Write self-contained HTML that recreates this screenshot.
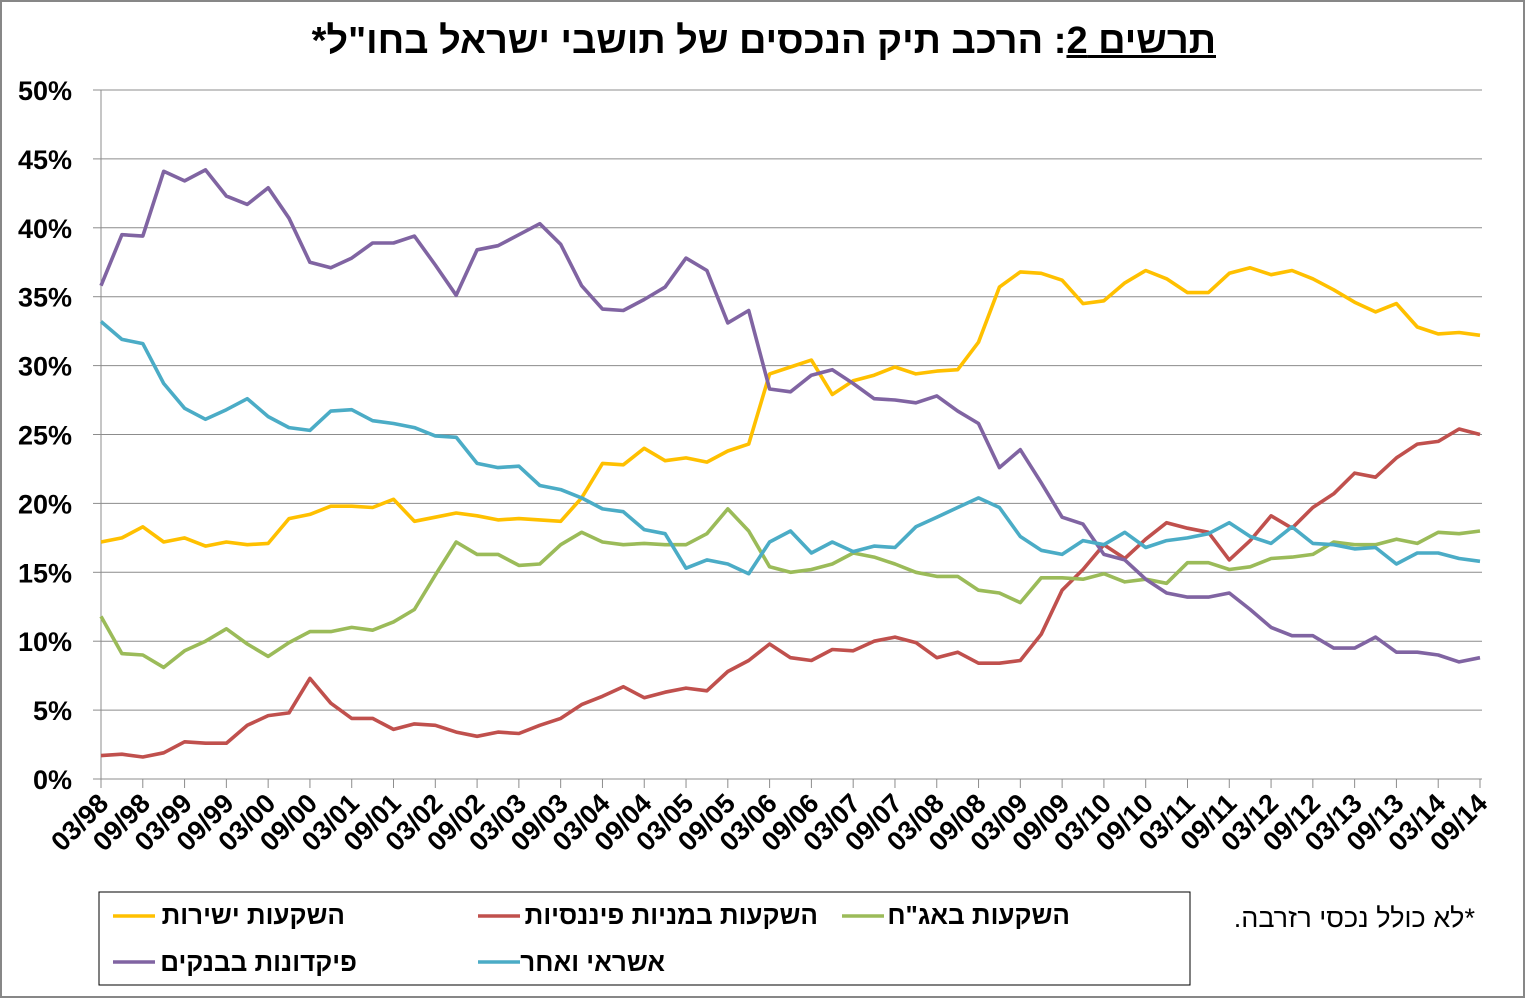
<!DOCTYPE html>
<html><head><meta charset="utf-8">
<style>
html,body{margin:0;padding:0;background:#fff;}
#wrap{position:relative;width:1526px;height:999px;overflow:hidden;font-family:"Liberation Sans","Noto Sans CJK SC",sans-serif;}
.he{position:absolute;direction:rtl;white-space:nowrap;font-family:"Liberation Sans","DejaVu Sans",sans-serif;}
</style></head>
<body>
<div id="wrap">
<svg id="svg" width="1526" height="999" style="position:absolute;left:0;top:0">
<rect x="1" y="1" width="1523" height="996" fill="#fff" stroke="#878787" stroke-width="2"/>
<rect x="99" y="892" width="1091" height="93" fill="none" stroke="#000" stroke-width="1"/>
<g id="grid"></g><g id="axes"></g><g id="series"></g>
</svg>
<div class="he" style="right:310px;top:20px;font-size:38px;font-weight:bold;"><u>תרשים 2</u>: הרכב תיק הנכסים של תושבי ישראל בחו"ל*</div>
<div class="he" style="right:1181px;top:900px;font-size:26px;font-weight:bold;">השקעות ישירות</div>
<div class="he" style="right:708px;top:900px;font-size:26px;font-weight:bold;">השקעות במניות פיננסיות</div>
<div class="he" style="right:456px;top:900px;font-size:26px;font-weight:bold;">השקעות באג"ח</div>
<div class="he" style="right:1169px;top:947px;font-size:26px;font-weight:bold;">פיקדונות בבנקים</div>
<div class="he" style="right:861px;top:947px;font-size:26px;font-weight:bold;">אשראי ואחר</div>
<div class="he" style="right:51px;top:903px;font-size:27px;">*לא כולל נכסי רזרבה.</div>
</div>
<script>
const yTicks=[0,5,10,15,20,25,30,35,40,45,50];
const xLabels=["03/98","09/98","03/99","09/99","03/00","09/00","03/01","09/01","03/02","09/02","03/03","09/03","03/04","09/04","03/05","09/05","03/06","09/06","03/07","09/07","03/08","09/08","03/09","09/09","03/10","09/10","03/11","09/11","03/12","09/12","03/13","09/13","03/14","09/14"];
const direct=[17.2,17.5,18.3,17.2,17.5,16.9,17.2,17.0,17.1,18.9,19.2,19.8,19.8,19.7,20.3,18.7,19.0,19.3,19.1,18.8,18.9,18.8,18.7,20.4,22.9,22.8,24.0,23.1,23.3,23.0,23.8,24.3,29.4,29.9,30.4,27.9,28.9,29.3,29.9,29.4,29.6,29.7,31.7,35.7,36.8,36.7,36.2,34.5,34.7,36.0,36.9,36.3,35.3,35.3,36.7,37.1,36.6,36.9,36.3,35.5,34.6,33.9,34.5,32.8,32.3,32.4,32.2];
const funds=[1.7,1.8,1.6,1.9,2.7,2.6,2.6,3.9,4.6,4.8,7.3,5.5,4.4,4.4,3.6,4.0,3.9,3.4,3.1,3.4,3.3,3.9,4.4,5.4,6.0,6.7,5.9,6.3,6.6,6.4,7.8,8.6,9.8,8.8,8.6,9.4,9.3,10.0,10.3,9.9,8.8,9.2,8.4,8.4,8.6,10.5,13.7,15.2,17.0,16.0,17.4,18.6,18.2,17.9,15.9,17.3,19.1,18.2,19.7,20.7,22.2,21.9,23.3,24.3,24.5,25.4,25.0];
const bonds=[11.8,9.1,9.0,8.1,9.3,10.0,10.9,9.8,8.9,9.9,10.7,10.7,11.0,10.8,11.4,12.3,14.8,17.2,16.3,16.3,15.5,15.6,17.0,17.9,17.2,17.0,17.1,17.0,17.0,17.8,19.6,18.0,15.4,15.0,15.2,15.6,16.4,16.1,15.6,15.0,14.7,14.7,13.7,13.5,12.8,14.6,14.6,14.5,14.9,14.3,14.5,14.2,15.7,15.7,15.2,15.4,16.0,16.1,16.3,17.2,17.0,17.0,17.4,17.1,17.9,17.8,18.0];
const deposits=[35.8,39.5,39.4,44.1,43.4,44.2,42.3,41.7,42.9,40.7,37.5,37.1,37.8,38.9,38.9,39.4,37.3,35.1,38.4,38.7,39.5,40.3,38.8,35.8,34.1,34.0,34.8,35.7,37.8,36.9,33.1,34.0,28.3,28.1,29.3,29.7,28.7,27.6,27.5,27.3,27.8,26.7,25.8,22.6,23.9,21.5,19.0,18.5,16.3,15.9,14.5,13.5,13.2,13.2,13.5,12.3,11.0,10.4,10.4,9.5,9.5,10.3,9.2,9.2,9.0,8.5,8.8];
const credit=[33.2,31.9,31.6,28.7,26.9,26.1,26.8,27.6,26.3,25.5,25.3,26.7,26.8,26.0,25.8,25.5,24.9,24.8,22.9,22.6,22.7,21.3,21.0,20.4,19.6,19.4,18.1,17.8,15.3,15.9,15.6,14.9,17.2,18.0,16.4,17.2,16.5,16.9,16.8,18.3,19.0,19.7,20.4,19.7,17.6,16.6,16.3,17.3,17.0,17.9,16.8,17.3,17.5,17.8,18.6,17.6,17.1,18.3,17.1,17.0,16.7,16.8,15.6,16.4,16.4,16.0,15.8];
const NS="http://www.w3.org/2000/svg";
const X0=101,X1=1480,Y0=779,Y1=90,N=direct.length;
const xs=i=>X0+i*(X1-X0)/(N-1);
const ys=v=>Y0-(v/50)*(Y0-Y1);
function mk(t,a,p){const e=document.createElementNS(NS,t);for(const k in a)e.setAttribute(k,a[k]);p.appendChild(e);return e;}
const grid=document.getElementById('grid'),axes=document.getElementById('axes'),ser=document.getElementById('series');
yTicks.forEach(v=>{
 if(v>0){const g=mk('line',{x1:X0,x2:X1+2,y1:ys(v),y2:ys(v),stroke:'#8c8c8c','stroke-width':1},grid);
 
 }
 const tk=mk('line',{x1:X0-8,x2:X0,y1:ys(v),y2:ys(v),stroke:'#8c8c8c'},axes);
 
 
 const t=mk('text',{x:72,y:ys(v)+10,'text-anchor':'end','font-size':27,'font-weight':'bold','font-family':'Liberation Sans, sans-serif'},axes);
 t.textContent=v+'%';
 
 
});
const ya=mk('line',{x1:X0,x2:X0,y1:Y1,y2:Y0,stroke:'#8c8c8c'},axes);


const xa=mk('line',{x1:X0,x2:X1+2,y1:Y0,y2:Y0,stroke:'#8c8c8c'},axes);


xLabels.forEach((l,k)=>{
 const x=xs(k*2);
 const tk=mk('line',{x1:x,x2:x,y1:Y0,y2:Y0+9,stroke:'#8c8c8c'},axes);
 
 
 const t=mk('text',{x:x+9,y:Y0+26,'text-anchor':'end','font-size':27,'font-weight':'bold','font-family':'Liberation Sans, sans-serif',transform:`rotate(-45 ${x+9} ${Y0+26})`},axes);
 t.textContent=l;
 
 
});
const series=[["direct",direct,"#ffc000"],["funds",funds,"#c0504d"],["bonds",bonds,"#9bbb59"],["deposits",deposits,"#8064a2"],["credit",credit,"#4bacc6"]];
series.forEach(([n,d,c])=>{
 const p=mk('polyline',{points:d.map((v,i)=>xs(i).toFixed(1)+','+ys(v).toFixed(1)).join(' '),fill:'none',stroke:c,'stroke-width':3.6,'stroke-linejoin':'round'},ser);
 
 
});
const leg=[[113,916,"#ffc000"],[478,916,"#c0504d"],[842,916,"#9bbb59"],[113,962,"#8064a2"],[478,962,"#4bacc6"]];
leg.forEach(([x,y,c])=>{
 const l=mk('line',{x1:x,x2:x+42,y1:y,y2:y,stroke:c,'stroke-width':3.6},ser);
 
 
});
</script>
</body></html>
